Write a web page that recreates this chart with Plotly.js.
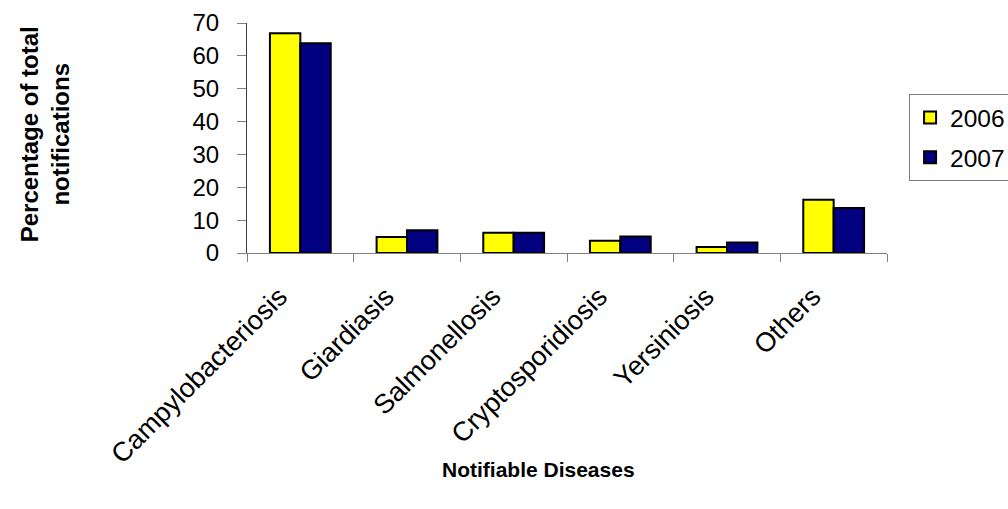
<!DOCTYPE html>
<html>
<head>
<meta charset="utf-8">
<script src="https://cdn.plot.ly/plotly-3.0.1.min.js"></script>
<style>
  html, body { margin: 0; padding: 0; background: #fff; }
  #chart { width: 1008px; height: 509px; }
</style>
</head>
<body>
<div id="chart"></div>
<script>
// Share of total notifications by disease, 2006 vs 2007
const diseases = ['Campylobacteriosis', 'Giardiasis', 'Salmonellosis', 'Cryptosporidiosis', 'Yersiniosis', 'Others'];
const pct2006 = [66.9, 4.9, 6.2, 3.7, 1.8, 16.2];
const pct2007 = [63.8, 6.9, 6.2, 5.0, 3.2, 13.7];
const yTicks = [0, 10, 20, 30, 40, 50, 60, 70];

const FONT = 'Liberation Sans, Arial, sans-serif';

const traces = [
  {
    type: 'bar', name: '2006', x: diseases, y: pct2006,
    marker: { color: '#FFFF00', line: { color: '#000000', width: 2 } },
    legendgroup: 'a', hoverinfo: 'x+y+name'
  },
  {
    type: 'bar', name: '2007', x: diseases, y: pct2007,
    marker: { color: '#000080', line: { color: '#000000', width: 2 } },
    legendgroup: 'b', hoverinfo: 'x+y+name'
  }
];

const layout = {
  width: 1008, height: 509,
  margin: { l: 247, r: 121, t: 23, b: 256, autoexpand: false },
  paper_bgcolor: '#ffffff', plot_bgcolor: '#ffffff',
  font: { family: FONT, color: '#000000', size: 22 },
  barmode: 'group', bargap: 0.43, bargroupgap: 0,
  showlegend: true,
  legend: {
    x: 1.0345, xanchor: 'left', y: 0.691, yanchor: 'top',
    bordercolor: '#808080', borderwidth: 1, bgcolor: '#ffffff',
    font: { family: FONT, size: 24.5, color: '#000000' },
    traceorder: 'grouped', tracegroupgap: 5, itemwidth: 30
  },
  xaxis: {
    type: 'category', tickangle: -45, tickson: 'boundaries',
    ticks: 'outside', ticklen: 8, tickcolor: '#808080', tickwidth: 1,
    showline: true, linecolor: '#808080', linewidth: 1,
    showgrid: false, zeroline: false,
    tickfont: { family: FONT, size: 27, color: '#000000' },
    ticklabelstandoff: 16, ticklabelshift: -21, automargin: false
  },
  yaxis: {
    range: [0, 70], tickvals: yTicks, ticktext: yTicks.map(String),
    ticks: 'outside', ticklen: 9, tickcolor: '#808080', tickwidth: 1,
    showline: true, linecolor: '#404040', linewidth: 1,
    showgrid: false, zeroline: false,
    tickfont: { family: FONT, size: 24, color: '#000000' },
    ticklabelstandoff: 13, automargin: false
  },
  annotations: [
    {
      text: '<b>Percentage of total<br>notifications</b>',
      xref: 'paper', yref: 'paper', x: -0.316, y: 0.515,
      xanchor: 'center', yanchor: 'middle', textangle: -90, showarrow: false,
      font: { family: FONT, size: 24, color: '#000000' }
    },
    {
      text: '<b>Notifiable Diseases</b>',
      xref: 'paper', yref: 'paper', x: 0.455, y: -0.94,
      xanchor: 'center', yanchor: 'middle', showarrow: false,
      font: { family: FONT, size: 21, color: '#000000' }
    }
  ]
};

Plotly.newPlot('chart', traces, layout, { displayModeBar: false, staticPlot: true });
</script>
</body>
</html>
